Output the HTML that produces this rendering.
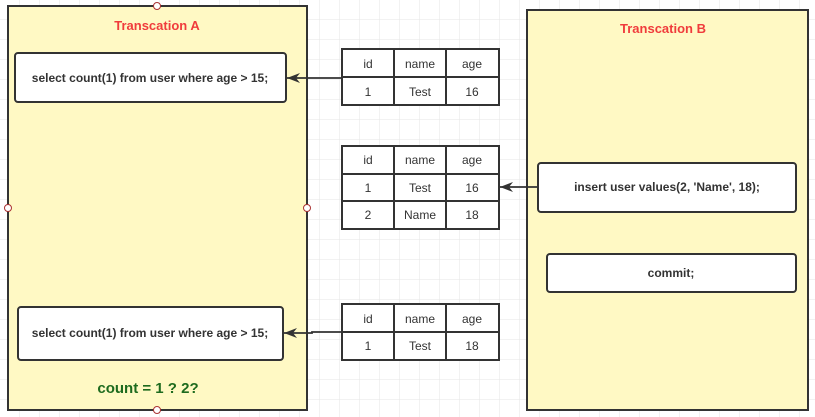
<!DOCTYPE html>
<html><head><meta charset="utf-8"><style>
html,body{margin:0;padding:0;background:#fff;}
svg{display:block;font-family:"Liberation Sans","Noto Sans CJK SC",sans-serif;}
</style></head><body>
<svg width="815" height="417" viewBox="0 0 815 417" xmlns="http://www.w3.org/2000/svg">
<defs>
<pattern id="g" width="20" height="20" patternUnits="userSpaceOnUse" x="0" y="0">
<path d="M20 0V20M0 20H20" fill="none" stroke="#e6e6e6" stroke-width="1"/>
</pattern>
<marker id="a" markerWidth="14" markerHeight="12" refX="13" refY="6" orient="auto" markerUnits="userSpaceOnUse">
<path d="M0,1 L13,6 L0,11 L4,6 Z" fill="#333"/>
</marker>
</defs>
<rect width="815" height="417" fill="url(#g)"/>
<rect x="8" y="6" width="299" height="404" fill="#fff9c4" stroke="#333" stroke-width="2"/>
<text x="157" y="30" text-anchor="middle" font-size="13" font-weight="bold" fill="#f03c3c">Transcation A</text>
<circle cx="157" cy="6" r="3.5" fill="#fff" stroke="#a33" stroke-width="1"/>
<circle cx="157" cy="410" r="3.5" fill="#fff" stroke="#a33" stroke-width="1"/>
<circle cx="8" cy="208" r="3.5" fill="#fff" stroke="#a33" stroke-width="1"/>
<circle cx="307" cy="208" r="3.5" fill="#fff" stroke="#a33" stroke-width="1"/>
<rect x="15" y="53" width="271" height="49" rx="3" fill="#fff" stroke="#333" stroke-width="2"/>
<text x="150" y="82" text-anchor="middle" font-size="12" font-weight="bold" fill="#333">select count(1) from user where age &gt; 15;</text>
<rect x="18" y="307" width="265" height="53" rx="3" fill="#fff" stroke="#333" stroke-width="2"/>
<text x="150" y="337" text-anchor="middle" font-size="12" font-weight="bold" fill="#333">select count(1) from user where age &gt; 15;</text>
<text x="148" y="393" text-anchor="middle" font-size="15" font-weight="bold" fill="#1e6b1e">count = 1 ? 2?</text>
<rect x="527" y="10" width="281" height="400" fill="#fff9c4" stroke="#333" stroke-width="2"/>
<text x="663" y="33" text-anchor="middle" font-size="13" font-weight="bold" fill="#f03c3c">Transcation B</text>
<rect x="538" y="163" width="258" height="49" rx="3" fill="#fff" stroke="#333" stroke-width="2"/>
<text x="667" y="191" text-anchor="middle" font-size="12" font-weight="bold" fill="#333">insert user values(2, 'Name', 18);</text>
<rect x="547" y="254" width="249" height="38" rx="3" fill="#fff" stroke="#333" stroke-width="2"/>
<text x="671" y="277" text-anchor="middle" font-size="12" font-weight="bold" fill="#333">commit;</text>
<g stroke="#333" stroke-width="2" fill="#fff">
<rect x="342" y="49" width="157" height="56"/>
<path d="M342 77H499M394 49V105M446 49V105" fill="none"/>
<rect x="342" y="146" width="157" height="83"/>
<path d="M342 174H499M342 201H499M394 146V229M446 146V229" fill="none"/>
<rect x="342" y="304" width="157" height="56"/>
<path d="M342 332H499M394 304V360M446 304V360" fill="none"/>
</g>
<g font-size="12" fill="#333" text-anchor="middle">
<text x="368" y="68">id</text><text x="420" y="68">name</text><text x="472" y="68">age</text>
<text x="368" y="96">1</text><text x="420" y="96">Test</text><text x="472" y="96">16</text>
<text x="368" y="164">id</text><text x="420" y="164">name</text><text x="472" y="164">age</text>
<text x="368" y="192">1</text><text x="420" y="192">Test</text><text x="472" y="192">16</text>
<text x="368" y="219">2</text><text x="420" y="219">Name</text><text x="472" y="219">18</text>
<text x="368" y="323">id</text><text x="420" y="323">name</text><text x="472" y="323">age</text>
<text x="368" y="350">1</text><text x="420" y="350">Test</text><text x="472" y="350">18</text>
</g>
<g stroke="#333" stroke-width="1.8" fill="none">
<path d="M342 78H287" marker-end="url(#a)"/>
<path d="M538 187H500" marker-end="url(#a)"/>
<path d="M342 332H312V333H284" marker-end="url(#a)"/>
</g>
</svg>
</body></html>
